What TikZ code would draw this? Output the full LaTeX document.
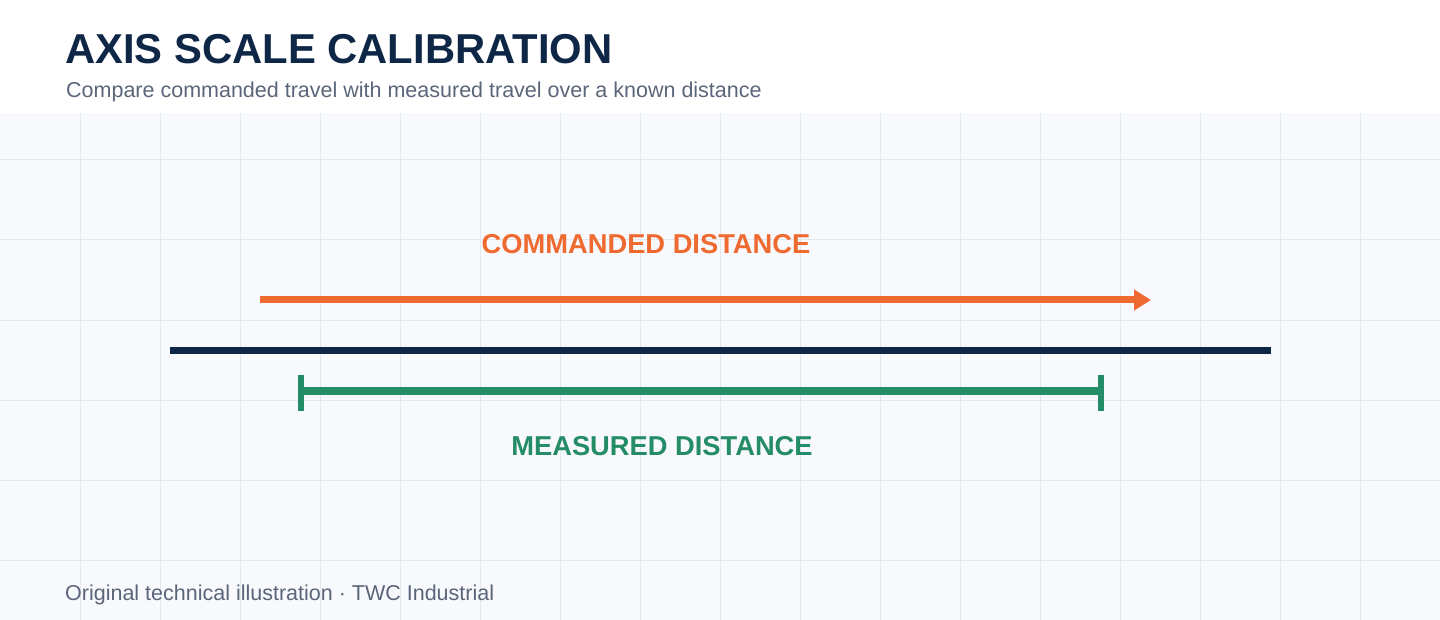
\documentclass[tikz,border=0pt]{standalone}
\usepackage{fontspec}
\setmainfont{Liberation Sans}
\usetikzlibrary{arrows.meta}

\definecolor{navy}{HTML}{0F2747}
\definecolor{cmdorange}{HTML}{EE6A30}
\definecolor{measgreen}{HTML}{248C67}
\definecolor{textgrey}{HTML}{5B6579}
\definecolor{paper}{HTML}{F7F9FC}
\definecolor{gridline}{HTML}{E3E7EE}

\tikzset{
	title/.style={anchor=base west, inner sep=0, text=navy, font=\fontsize{41.8}{50}\selectfont\bfseries},
	subtitle/.style={anchor=base west, inner sep=0, text=textgrey, font=\fontsize{21.5}{26}\selectfont},
	barlabel/.style={anchor=base, inner sep=0, font=\fontsize{27.3}{33}\selectfont\bfseries},
}

\begin{document}
\begin{tikzpicture}[x=1pt, y=-1pt]
	\useasboundingbox (0, 0) rectangle (1440, 620);

	\fill[paper] (0, 113) rectangle (1440, 620);
	\foreach \gx in {80, 160, ..., 1360}
		\draw[gridline, line width=1pt] (\gx, 113) -- (\gx, 620);
	\foreach \gy in {160, 240, ..., 560}
		\draw[gridline, line width=1pt] (0, \gy) -- (1440, \gy);

	\node[title] (title) at (65, 64) {AXIS SCALE CALIBRATION};
	\node[subtitle] (subtitle) at (66, 98) {Compare commanded travel with measured travel over a known distance};

	\coordinate (cmdstart) at (260, 300);
	\coordinate (cmdend) at (1151, 300);
	\coordinate (axisstart) at (170, 350);
	\coordinate (axisend) at (1271, 350);
	\coordinate (measstart) at (301, 391);
	\coordinate (measend) at (1101, 391);

	\draw[cmdorange, line width=7pt, -{Triangle[length=17pt, width=20pt]}] (cmdstart) -- (cmdend);
	\draw[navy, line width=7pt] (axisstart) -- (axisend);
	\draw[measgreen, line width=8pt] (measstart) -- (measend);
	\draw[measgreen, line width=6pt] ([yshift=16pt]measstart) -- ([yshift=-20pt]measstart);
	\draw[measgreen, line width=6pt] ([yshift=16pt]measend) -- ([yshift=-20pt]measend);

	\node[barlabel, text=cmdorange] (cmdlabel) at (646, 254) {COMMANDED DISTANCE};
	\node[barlabel, text=measgreen] (measlabel) at (662, 455) {MEASURED DISTANCE};

	\node[subtitle] (footer) at (65, 600) {Original technical illustration · TWC Industrial};
\end{tikzpicture}
\end{document}
